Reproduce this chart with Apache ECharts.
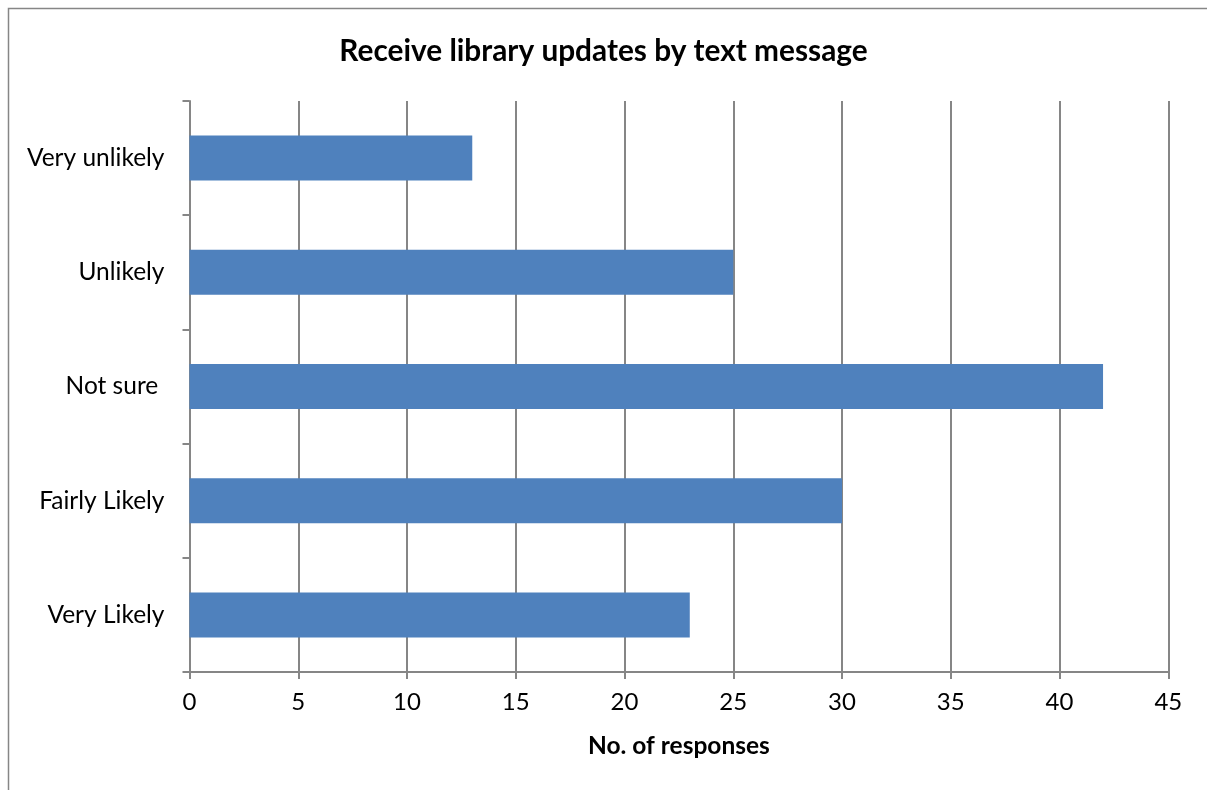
<!DOCTYPE html>
<html>
<head>
<meta charset="utf-8">
<title>Receive library updates by text message</title>
<script src="https://cdn.jsdelivr.net/npm/echarts@6/dist/echarts.min.js"></script>
<style>
  html, body { margin: 0; padding: 0; background: #fff; }
  #chart { width: 1207px; height: 790px; }
</style>
</head>
<body>
<div id="chart"></div>
<script>
// Survey answers, listed bottom to top as they appear on the axis
const categories = ['Very Likely', 'Fairly Likely', 'Not sure ', 'Unlikely', 'Very unlikely'];
const responses = [23, 30, 42, 25, 13];
const xTicks = { min: 0, max: 45, interval: 5 };

const titleText = 'Receive library updates by text message';
const xAxisName = 'No. of responses';

const fontFamily = 'Lato, "Open Sans", "Noto Sans", sans-serif';
const lineGray = '#868686';

const chart = echarts.init(document.getElementById('chart'), null, { renderer: 'canvas' });

chart.setOption({
  animation: false,
  backgroundColor: '#ffffff',
  title: {
    text: titleText,
    left: 'center',
    top: 31,
    textStyle: { fontFamily, fontSize: 29.8, fontWeight: 'bold', color: '#000' }
  },
  graphic: [{
    type: 'rect',
    shape: { x: 8.5, y: 8.5, width: 1300, height: 900 },
    style: { fill: 'none', stroke: lineGray, lineWidth: 1.5 },
    silent: true,
    z: -1
  }],
  grid: { left: 189.5, right: 38.7, top: 101, bottom: 118, containLabel: false },
  xAxis: {
    type: 'value',
    min: xTicks.min,
    max: xTicks.max,
    interval: xTicks.interval,
    name: xAxisName,
    nameLocation: 'middle',
    nameGap: 62,
    nameTextStyle: { fontFamily, fontSize: 24.5, fontWeight: 'bold', color: '#000' },
    axisLine: { show: true, lineStyle: { color: lineGray, width: 2 } },
    axisTick: { show: true, length: 7, lineStyle: { color: lineGray, width: 2 } },
    axisLabel: { fontFamily, fontSize: 24, color: '#000', margin: 18 },
    splitLine: { show: true, lineStyle: { color: lineGray, width: 2 } }
  },
  yAxis: {
    type: 'category',
    data: categories,
    axisLine: { show: true, lineStyle: { color: lineGray, width: 2 } },
    axisTick: { show: true, length: 7, lineStyle: { color: lineGray, width: 2 } },
    axisLabel: { fontFamily, fontSize: 24.5, color: '#000', margin: 25 },
    splitLine: { show: false }
  },
  series: [{
    type: 'bar',
    data: responses,
    barWidth: 45,
    itemStyle: { color: '#4f81bd' }
  }]
});
</script>
</body>
</html>
